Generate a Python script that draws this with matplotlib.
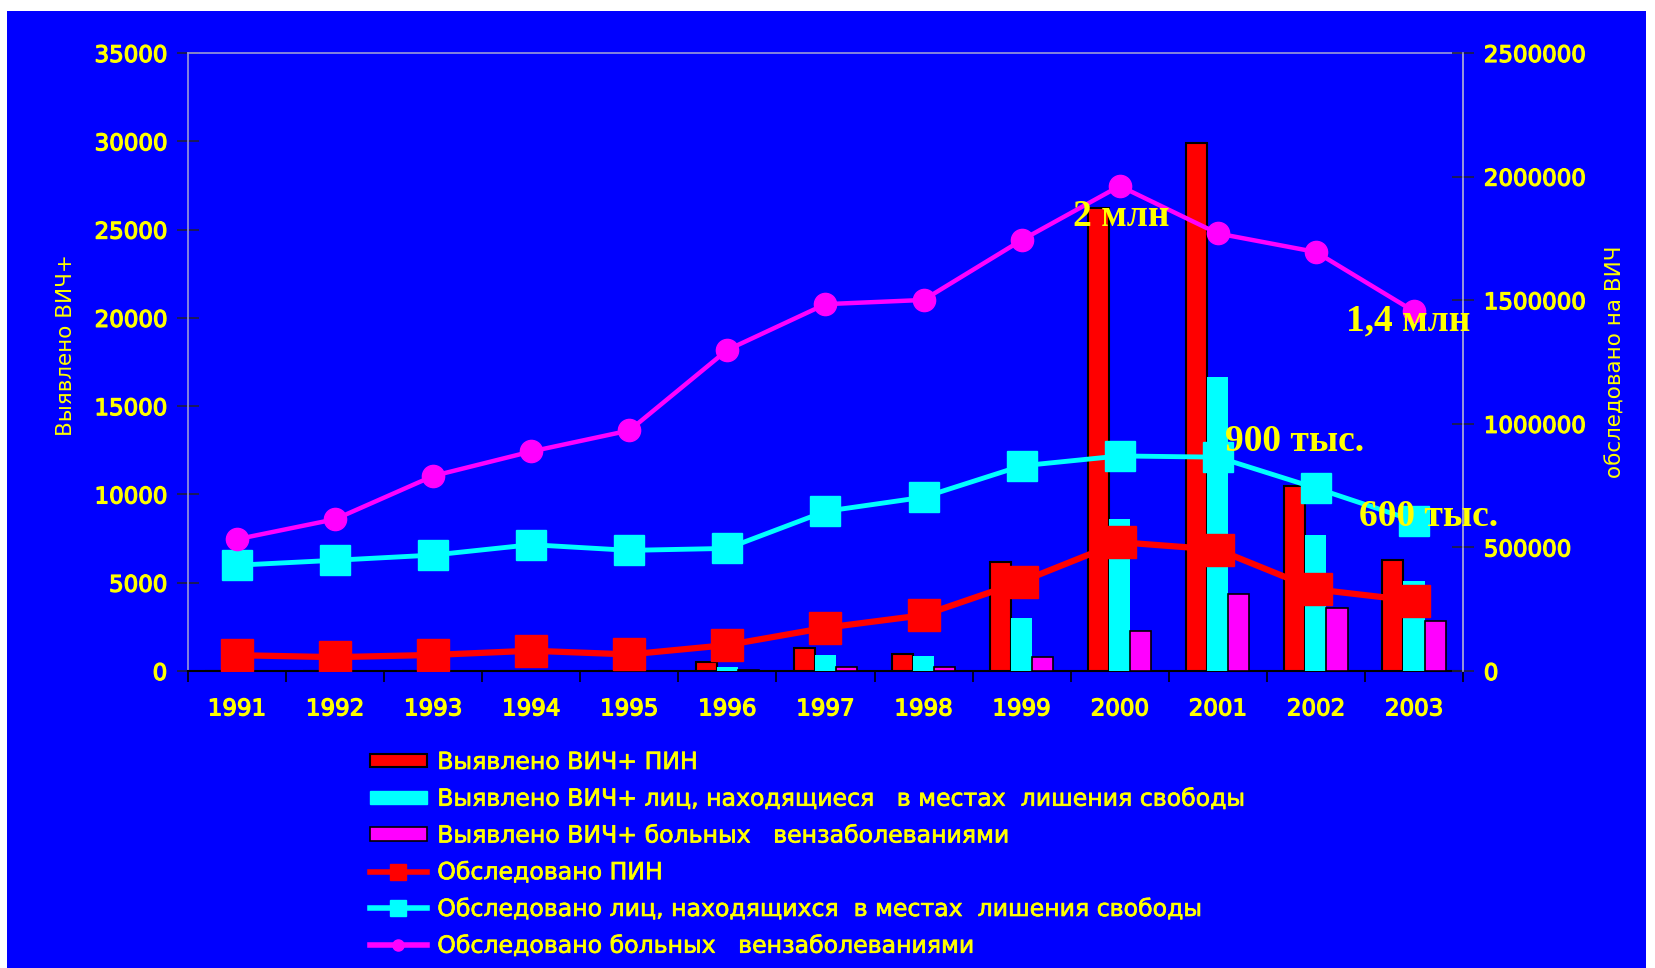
import numpy as np
import matplotlib
matplotlib.use("Agg")
import matplotlib.pyplot as plt
import matplotlib.patheffects as pe
from matplotlib.lines import Line2D
from matplotlib.patches import Patch, Rectangle
from matplotlib.ticker import FixedLocator, FuncFormatter

plt.rcParams['font.family'] = ['DejaVu Sans']

years = [str(y) for y in range(1991, 2004)]

# detected HIV+ (left axis)
hiv_pin = [0, 0, 0, 0, 0, 500, 1300, 940, 6150, 26200, 29900, 10500, 6300]
hiv_prison = [0, 0, 0, 0, 0, 250, 880, 840, 3000, 8600, 16650, 7720, 5070]
hiv_std = [0, 0, 0, 0, 0, 60, 200, 200, 790, 2240, 4370, 3560, 2820]

# tested for HIV (right axis)
tested_pin = [64000, 56000, 65000, 82000, 67000, 105000, 175000, 226000,
              362000, 521000, 491000, 330000, 284000]
tested_prison = [428000, 448000, 469000, 511000, 488000, 496000, 646000,
                 703000, 830000, 870000, 865000, 740000, 608000]
tested_std = [533000, 614000, 789000, 888000, 973000, 1299000, 1484000,
              1501000, 1743000, 1962000, 1770000, 1695000, 1455000]

labels = [
    "Выявлено ВИЧ+ ПИН",
    "Выявлено ВИЧ+ лиц, находящиеся   в местах  лишения свободы",
    "Выявлено ВИЧ+ больных   вензаболеваниями",
    "Обследовано ПИН",
    "Обследовано лиц, находящихся  в местах  лишения свободы",
    "Обследовано больных   вензаболеваниями",
]

notes = [("2 млн", 9.02, 1840000), ("1,4 млн", 11.94, 1415000),
         ("900 тыс.", 10.78, 930000), ("600 тыс.", 12.15, 623000)]

BLUE = "#0000ff"
YEL = "#ffff00"
AXC = "#9a9ad8"
thick = [pe.withStroke(linewidth=0.9, foreground=YEL)]

fig = plt.figure(figsize=(16.56, 9.68), dpi=100, facecolor="white")
fig.patches.append(Rectangle((7 / 1656, 0), (1646 - 7) / 1656, 1 - 11 / 968,
                             transform=fig.transFigure, facecolor=BLUE,
                             edgecolor="none", zorder=-5))

ax = fig.add_axes([188 / 1656, 1 - 671 / 968, (1463 - 188) / 1656, (671 - 53) / 968])
ax.patch.set_visible(False)
ax2 = ax.twinx()
ax2.patch.set_visible(False)

x = np.arange(len(years))
w = 0.215
ax.bar(x - w, hiv_pin, w, color="#ff0000", edgecolor="black", linewidth=1.5, zorder=3)
ax.bar(x, hiv_prison, w, color="#00ffff", edgecolor="none", zorder=3)
ax.bar(x + w, hiv_std, w, color="#ff00ff", edgecolor="black", linewidth=1.2, zorder=3)

ax2.plot(x, tested_pin, color="#ff0000", lw=4.5, marker="s", ms=23, mec="#ff0000")
ax2.plot(x, tested_prison, color="#00ffff", lw=3.5, marker="s", ms=22, mec="#00ffff")
ax2.plot(x, tested_std, color="#ff00ff", lw=3.2, marker="o", ms=16, mec="#ff00ff")

for txt, xi, yi in notes:
    ax2.text(xi, yi, txt, color=YEL, fontsize=27, fontweight="bold",
             family="Liberation Serif", ha="center", va="center", zorder=10)

ax.set_xlim(-0.5, len(years) - 0.5)
ax.set_ylim(0, 35000)
ax2.set_ylim(0, 2500000)

tick_font = dict(labelsize=16.5, labelcolor=YEL)

ax.set_xticks(x)
ax.set_xticklabels(years)
ax.xaxis.set_minor_locator(FixedLocator(np.arange(-0.5, len(years), 1.0)))
ax.tick_params(axis="x", which="major", length=0, pad=19, **tick_font)
ax.tick_params(axis="x", which="minor", length=8, width=1.2, color="black", direction="out")

ax.set_yticks(np.arange(0, 35001, 5000))
ax.tick_params(axis="y", length=16, width=1.2, color="#202040", direction="inout",
               pad=7, **tick_font)
ax2.set_yticks(np.arange(0, 2500001, 500000))
ax2.yaxis.set_major_formatter(FuncFormatter(lambda v, p: "%d" % v))
ax2.tick_params(axis="y", length=16, width=1.2, color="#202040", direction="inout",
                pad=7, **tick_font)
for lab in ax.get_xticklabels() + ax.get_yticklabels() + ax2.get_yticklabels():
    lab.set_path_effects(thick)

for s in ("left", "top", "right"):
    ax.spines[s].set_color(AXC)
    ax.spines[s].set_linewidth(1.2)
ax.spines["bottom"].set_color("black")
ax.spines["bottom"].set_linewidth(1.5)
ax2.spines["right"].set_color(AXC)
ax2.spines["right"].set_linewidth(1.2)
for s in ("left", "top", "bottom"):
    ax2.spines[s].set_visible(False)

fig.text(66 / 1656, 1 - 345 / 968, "Выявлено ВИЧ+", rotation=90, color=YEL,
         fontsize=15.5, ha="center", va="center")
fig.text(1616 / 1656, 1 - 362 / 968, "обследовано на ВИЧ", rotation=90, color=YEL,
         fontsize=15.5, ha="center", va="center")

handles = [
    Patch(facecolor="#ff0000", edgecolor="black", linewidth=1.5),
    Patch(facecolor="#00ffff", edgecolor="#00ffff"),
    Patch(facecolor="#ff00ff", edgecolor="black", linewidth=1.2),
    Line2D([], [], color="#ff0000", lw=4, marker="s", ms=11),
    Line2D([], [], color="#00ffff", lw=4, marker="s", ms=11),
    Line2D([], [], color="#ff00ff", lw=4, marker="o", ms=8),
]
leg = fig.legend(handles, labels, loc="upper left", bbox_to_anchor=(370 / 1656, 1 - 750 / 968),
                 frameon=False, fontsize=17, labelcolor=YEL, handlelength=2.4,
                 handleheight=0.5, handletextpad=0.45, labelspacing=0.54,
                 borderpad=0, borderaxespad=0)
for t in leg.get_texts():
    t.set_path_effects([pe.withStroke(linewidth=0.5, foreground=YEL)])

fig.savefig("out.png", dpi=100, facecolor="white")
